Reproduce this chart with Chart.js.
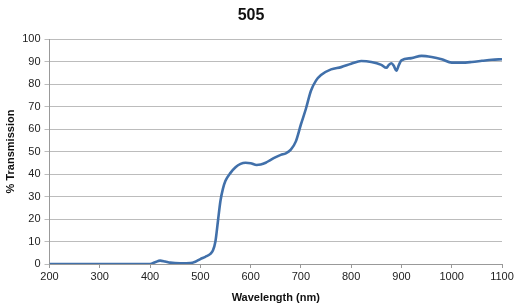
<!DOCTYPE html>
<html>
<head>
<meta charset="utf-8">
<script src="https://cdn.jsdelivr.net/npm/chart.js@4/dist/chart.umd.min.js"></script>
<style>
  html, body { margin: 0; padding: 0; background: #fff; }
  #wrap { width: 517px; height: 305px; }
</style>
</head>
<body>
<div id="wrap"><canvas id="grafico" width="517" height="305"></canvas></div>
<script>
const titulo = '505';
const comprimentos = [200, 250, 300, 350, 400, 410, 420, 430, 440, 460, 480, 490, 500, 510, 520, 525, 530, 535, 540, 545, 550, 560, 570, 580, 590, 600, 612, 620, 630, 640, 650, 660, 670, 680, 690, 700, 710, 720, 730, 740, 760, 780, 800, 820, 840, 860, 870, 875, 880, 885, 890, 895, 900, 920, 940, 960, 980, 1000, 1020, 1040, 1060, 1080, 1100];
const transmissao = [0, 0, 0, 0, 0, 0.8, 1.5, 1.1, 0.6, 0.3, 0.4, 1.0, 2.2, 3.2, 4.5, 6, 10, 19, 28, 33.5, 37, 40.5, 43, 44.5, 45, 44.8, 44, 44.2, 45, 46.3, 47.5, 48.5, 49.2, 50.8, 54.5, 62, 69, 77, 81.5, 84, 86.5, 87.5, 89, 90.2, 89.8, 88.5, 87.2, 88.5, 89.2, 88, 85.9, 88.5, 90.5, 91.5, 92.5, 92, 91, 89.5, 89.5, 89.8, 90.3, 90.8, 91];

const pontos = comprimentos.map((x, i) => ({ x: x, y: transmissao[i] }));
const fonte = "'Liberation Sans', Arial, sans-serif";

const ctx = document.getElementById('grafico').getContext('2d');
new Chart(ctx, {
  type: 'line',
  data: {
    datasets: [{
      data: pontos,
      borderColor: '#4170aa',
      borderWidth: 2.6,
      cubicInterpolationMode: 'monotone',
      fill: false,
      pointRadius: 0
    }]
  },
  options: {
    responsive: false,
    animation: false,
    layout: { padding: { left: 0, right: 15, top: 0, bottom: 0 } },
    scales: {
      x: {
        type: 'linear',
        min: 200,
        max: 1100,
        afterFit: s => { s.height = 41; },
        ticks: { stepSize: 100, color: '#222', font: { family: fonte, size: 11 }, padding: 2, maxRotation: 0, callback: v => String(v) },
        grid: { drawOnChartArea: false, drawTicks: true, tickLength: 4, color: '#999' },
        border: { color: '#999' },
        title: { display: true, text: 'Wavelength (nm)', color: '#111', font: { family: fonte, size: 11, weight: 'bold' }, padding: { top: 2, bottom: 0 } }
      },
      y: {
        min: 0,
        max: 100,
        afterFit: s => { s.width = 49.5; },
        ticks: { stepSize: 10, color: '#222', font: { family: fonte, size: 11 }, padding: 4 },
        grid: { color: '#bcbcbc', tickLength: 5, lineWidth: 1 },
        border: { color: '#999' },
        title: { display: true, text: '% Transmission', color: '#111', font: { family: fonte, size: 11, weight: 'bold' }, padding: { top: 4, bottom: 0 } }
      }
    },
    plugins: {
      legend: { display: false },
      tooltip: { enabled: false },
      title: {
        display: true,
        text: titulo,
        color: '#111',
        font: { family: fonte, size: 16, weight: 'bold' },
        padding: { top: 6, bottom: 13.8 }
      }
    }
  }
});
</script>
</body>
</html>
